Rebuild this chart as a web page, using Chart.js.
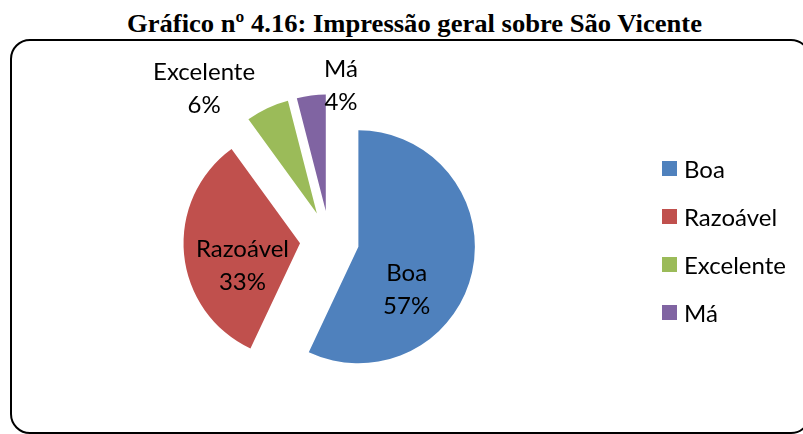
<!DOCTYPE html>
<html><head><meta charset="utf-8">
<script src="https://cdn.jsdelivr.net/npm/chart.js@4/dist/chart.umd.min.js"></script>
<style>
html,body{margin:0;padding:0;background:#fff;width:803px;height:434px;overflow:hidden;position:relative;}
#title{position:absolute;left:127px;top:11px;white-space:nowrap;font-family:"Liberation Serif","Times New Roman",serif;font-weight:bold;font-size:26px;line-height:26px;color:#000;transform-origin:0 0;}
#box{position:absolute;left:10px;top:39px;width:801px;height:395px;border:2px solid #000;border-radius:20px;box-sizing:border-box;}
#c{position:absolute;left:0;top:0;}
.item{position:absolute;left:662px;height:40px;display:flex;align-items:center;font-family:Lato,sans-serif;font-size:24px;line-height:1;color:#000;}
.sw{width:15px;height:15px;margin-right:7px;}
</style></head><body>
<div id="title">Gráfico nº 4.16: Impressão geral sobre São Vicente</div>
<div id="box"></div>
<canvas id="c" width="803" height="434"></canvas>
<div id="legend"></div>
<script>
const categories = ['Boa', 'Razoável', 'Excelente', 'Má'];
const percentages = [57, 33, 6, 4];
const colors = ['#4F81BD', '#C0504D', '#9BBB59', '#8064A2'];

// label placement style: [radial factor, angle shift in degrees]
const labelPlacement = [[0.548, 28.3], [0.528, -15.3], [1.45, -16.7], [1.088, 14.1]];
const EXPLODE = 29.6;
const LABEL_FONT = 24;
const LINE_GAP = 33;

// title width fit
const t = document.getElementById('title');
const tw = t.getBoundingClientRect().width;
t.style.transform = 'scaleX(' + (575 / tw) + ')';

// legend
const legendCenters = [168.5, 216.5, 264.5, 312.5];
const lg = document.getElementById('legend');
categories.forEach((c, i) => {
  const d = document.createElement('div');
  d.className = 'item';
  d.style.top = (legendCenters[i] - 20) + 'px';
  d.innerHTML = '<span class="sw" style="background:' + colors[i] + '"></span><span>' + c + '</span>';
  lg.appendChild(d);
});

const explodePlugin = {
  id: 'explode',
  afterDatasetsUpdate(chart) {
    const meta = chart.getDatasetMeta(0);
    meta.data.forEach(arc => {
      const half = (arc.startAngle + arc.endAngle) / 2;
      arc.x += EXPLODE * Math.cos(half);
      arc.y += EXPLODE * Math.sin(half);
    });
  }
};

const labelPlugin = {
  id: 'labels',
  afterDatasetsDraw(chart) {
    const ctx = chart.ctx;
    const meta = chart.getDatasetMeta(0);
    ctx.save();
    ctx.font = LABEL_FONT + 'px Lato, sans-serif';
    ctx.fillStyle = '#000';
    ctx.textAlign = 'center';
    ctx.textBaseline = 'alphabetic';
    const capHalf = LABEL_FONT * 0.36;
    meta.data.forEach((arc, i) => {
      const half = (arc.startAngle + arc.endAngle) / 2 + labelPlacement[i][1] * Math.PI / 180;
      const d = labelPlacement[i][0] * arc.outerRadius;
      const x = arc.x + d * Math.cos(half);
      const y = arc.y + d * Math.sin(half);
      ctx.fillText(categories[i], x, y - LINE_GAP / 2 + capHalf);
      ctx.fillText(percentages[i] + '%', x, y + LINE_GAP / 2 + capHalf);
    });
    ctx.restore();
  }
};

function draw() {
  new Chart(document.getElementById('c').getContext('2d'), {
    type: 'pie',
    data: {
      labels: categories,
      datasets: [{ data: percentages, backgroundColor: colors, borderWidth: 0 }]
    },
    options: {
      responsive: false,
      animation: false,
      events: [],
      radius: 116.5,
      layout: { padding: { left: 60, right: 204, top: 70, bottom: 23.2 } },
      plugins: { legend: { display: false }, title: { display: false }, tooltip: { enabled: false } }
    },
    plugins: [explodePlugin, labelPlugin]
  });
}
if (document.fonts && document.fonts.load) {
  document.fonts.load('24px Lato').then(draw, draw);
} else { draw(); }
</script>
</body></html>
